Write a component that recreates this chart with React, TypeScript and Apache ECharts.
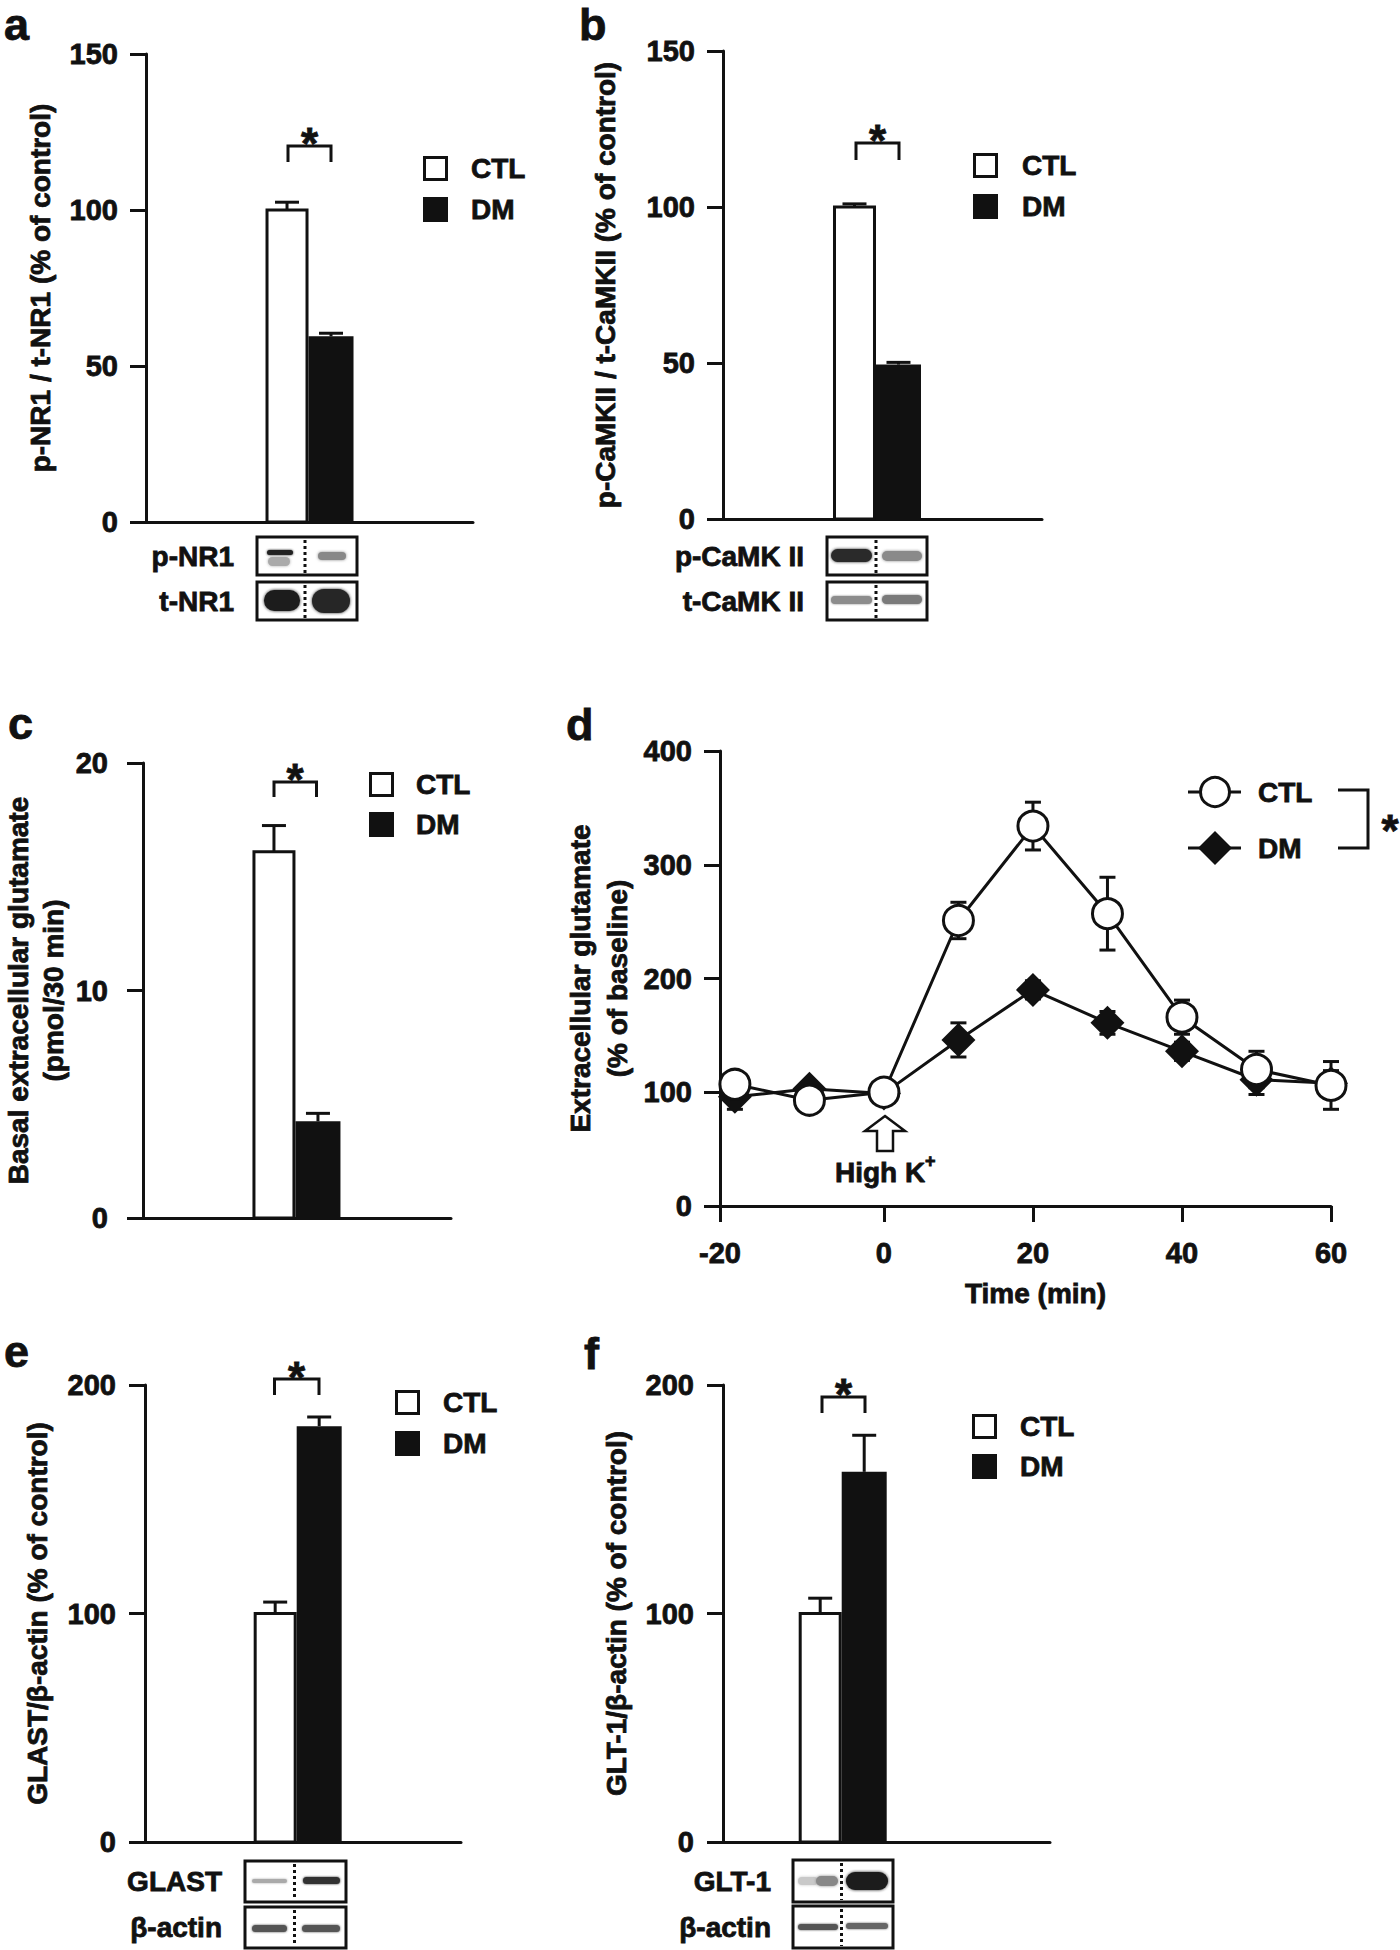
import React, { useEffect, useRef } from 'react';
import * as echarts from 'echarts';

const FONT = '"Liberation Sans", Arial, Helvetica, sans-serif';
const BLACK = '#111111';
const TEXT_STROKE = 0.8;

// ---------------- data ----------------
const groupNames = ['CTL', 'DM'];
const pNR1Values = [100, 59.5];
const pNR1Errors = [2.5, 1.0];
const pCaMKIIValues = [100, 49.5];
const pCaMKIIErrors = [1.0, 0.7];
const basalGluValues = [16.1, 4.25];
const basalGluErrors = [1.15, 0.35];
const glastValues = [100, 182];
const glastErrors = [5, 4];
const glt1Values = [100, 162];
const glt1Errors = [6.7, 16];

const timeMin = [-20, -10, 0, 10, 20, 30, 40, 50, 60];
const ctlGlu = [107, 93, 100, 251, 334, 257, 166, 120, 106];
const ctlGluErr = [5, 4, 3, 16, 21, 32, 15, 16, 21];
const dmGlu = [96, 103, 99, 146, 190, 161, 136, 111, 108];
const dmGluErr = [11, 6, 4, 15, 8, 10, 8, 13, 11];

const ticks150 = [0, 50, 100, 150];
const ticks20 = [0, 10, 20];
const ticks200 = [0, 100, 200];
const ticks400 = [0, 100, 200, 300, 400];
const timeTicks = [-20, 0, 20, 40, 60];

// ---------------- layout ----------------
const timeAxisStart = -22; // axis origin sits slightly left of the first sample

const barPanels = [
  { grid: { left: 146, top: 54, width: 327, height: 468 }, groupPos: 0.497, ticks: ticks150, values: pNR1Values, errors: pNR1Errors,
    yName: 'p-NR1 / t-NR1 (% of control)', nameGap: 92, margin: 28, lineHeight: 28 },
  { grid: { left: 723, top: 51, width: 319, height: 468 }, groupPos: 0.4796, ticks: ticks150, values: pCaMKIIValues, errors: pCaMKIIErrors,
    yName: 'p-CaMKII / t-CaMKII (% of control)', nameGap: 104, margin: 28, lineHeight: 28 },
  { grid: { left: 139, top: 763, width: 312, height: 455 }, groupPos: 0.495, ticks: ticks20, values: basalGluValues, errors: basalGluErrors,
    yName: 'Basal extracellular glutamate\n(pmol/30 min)', nameGap: 72, margin: 35, lineHeight: 35 },
  null,
  { grid: { left: 145, top: 1385, width: 316, height: 457 }, groupPos: 0.48, ticks: ticks200, values: glastValues, errors: glastErrors,
    yName: 'GLAST/β-actin (% of control)', nameGap: 94, margin: 29, lineHeight: 28 },
  { grid: { left: 723, top: 1385, width: 327, height: 457 }, groupPos: 0.363, ticks: ticks200, values: glt1Values, errors: glt1Errors,
    yName: 'GLT-1/β-actin (% of control)', nameGap: 93, margin: 29, lineHeight: 28 },
];
const lineGrid = { left: 720, top: 751, width: 611, height: 455 };

const legends = [
  { x: 423, ctlTop: 156, dmTop: 197, textX: 471 },
  { x: 973, ctlTop: 153, dmTop: 194, textX: 1022 },
  { x: 369, ctlTop: 772, dmTop: 812, textX: 416 },
  { x: 395, ctlTop: 1390, dmTop: 1431, textX: 443 },
  { x: 972, ctlTop: 1414, dmTop: 1454, textX: 1020 },
];
const brackets = [
  { x1: 288, x2: 331, top: 146, bottom: 162, sx: 309.5, sy: 133 },
  { x1: 856, x2: 899, top: 143, bottom: 160, sx: 877.5, sy: 130 },
  { x1: 274, x2: 316.5, top: 782, bottom: 797, sx: 295, sy: 769 },
  { x1: 274.5, x2: 319, top: 1379, bottom: 1395, sx: 296.5, sy: 1367 },
  { x1: 822, x2: 865, top: 1397, bottom: 1413, sx: 843.5, sy: 1384 },
];
const LETTER_SIZE = 45;
const panelLetters = [
  { t: 'a', x: 4, base: 40 }, { t: 'b', x: 579, base: 40 }, { t: 'c', x: 8, base: 739 },
  { t: 'd', x: 566, base: 740 }, { t: 'e', x: 4, base: 1367 }, { t: 'f', x: 584, base: 1369 },
];

type Band = [number, number, number, number, string, number];
const blots: { label: string; lx: number; ly: number; box: [number, number, number, number]; div: number; bands: Band[] }[] = [
  { label: 'p-NR1', lx: 234, ly: 556, box: [257, 537, 100, 38], div: 305,
    bands: [[267, 550, 26, 5, '#222', 2], [268, 557, 22, 9, '#aaa', 3], [318, 552, 28, 8, '#888', 3]] },
  { label: 't-NR1', lx: 234, ly: 601, box: [257, 582, 100, 38], div: 305,
    bands: [[264, 590, 36, 21, '#1a1a1a', 3], [312, 589, 38, 24, '#262626', 3]] },
  { label: 'p-CaMK II', lx: 804, ly: 556, box: [827, 537, 100, 38], div: 876,
    bands: [[831, 549, 41, 13, '#2a2a2a', 3], [882, 551, 40, 10, '#8a8a8a', 3]] },
  { label: 't-CaMK II', lx: 804, ly: 601, box: [827, 582, 100, 38], div: 876,
    bands: [[831, 596, 41, 8, '#8c8c8c', 2], [882, 595, 40, 9, '#7a7a7a', 2]] },
  { label: 'GLAST', lx: 222, ly: 1881, box: [245, 1861, 101, 41], div: 294.5,
    bands: [[252, 1879, 35, 4, '#aaa', 2], [303, 1877, 37, 7, '#333', 2]] },
  { label: 'β-actin', lx: 222, ly: 1927, box: [245, 1907, 101, 41], div: 294.5,
    bands: [[252, 1925, 35, 7, '#555', 2], [302, 1925, 38, 7, '#555', 2]] },
  { label: 'GLT-1', lx: 771, ly: 1881, box: [793, 1860, 100, 42], div: 841.5,
    bands: [[798, 1877, 20, 8, '#c8c8c8', 3], [816, 1876, 22, 10, '#888', 3], [846, 1872, 42, 18, '#1a1a1a', 3]] },
  { label: 'β-actin', lx: 771, ly: 1927, box: [793, 1906, 100, 42], div: 841.5,
    bands: [[798, 1924, 40, 6, '#555', 2], [846, 1923, 42, 6, '#666', 2]] },
];

// ---------------- helpers ----------------
const font = (size: number) => `bold ${size}px ${FONT}`;
const textEl = (text: string, x: number, y: number, size = 28, align = 'left') => ({
  type: 'text', x, y, silent: true,
  style: {
    text, fill: BLACK, font: font(size), textAlign: align, textVerticalAlign: 'middle', verticalAlign: 'middle',
    stroke: BLACK, lineWidth: TEXT_STROKE,
  },
});

function buildGraphic() {
  const g: any[] = [];
  panelLetters.forEach((p) => g.push(textEl(p.t, p.x, p.base - 0.3465 * LETTER_SIZE, LETTER_SIZE)));
  legends.forEach((l) => {
    g.push({ type: 'rect', shape: { x: l.x + 1.5, y: l.ctlTop + 1.5, width: 22, height: 22 }, style: { fill: '#fff', stroke: BLACK, lineWidth: 3 } });
    g.push({ type: 'rect', shape: { x: l.x, y: l.dmTop, width: 25, height: 25 }, style: { fill: BLACK } });
    g.push(textEl(groupNames[0], l.textX, l.ctlTop + 12.5));
    g.push(textEl(groupNames[1], l.textX, l.dmTop + 12.5));
  });
  brackets.forEach((b) => {
    g.push({ type: 'polyline', shape: { points: [[b.x1, b.bottom], [b.x1, b.top], [b.x2, b.top], [b.x2, b.bottom]] }, style: { fill: null, stroke: BLACK, lineWidth: 3 } });
    g.push(textEl('*', b.sx, b.sy + 10, 44, 'center'));
  });
  blots.forEach((bl) => {
    const [x, y, w, h] = bl.box;
    g.push({ type: 'rect', shape: { x, y, width: w, height: h }, style: { fill: '#fff' } });
    bl.bands.forEach((b) =>
      g.push({ type: 'rect', shape: { x: b[0], y: b[1], width: b[2], height: b[3], r: b[3] / 2 }, style: { fill: b[4], shadowBlur: b[5], shadowColor: b[4] } })
    );
    g.push({ type: 'line', shape: { x1: bl.div, y1: y + 3, x2: bl.div, y2: y + h - 2 }, style: { stroke: BLACK, lineWidth: 3, lineDash: [3, 3] } });
    g.push({ type: 'rect', shape: { x, y, width: w, height: h }, style: { fill: null, stroke: BLACK, lineWidth: 3 } });
    g.push(textEl(bl.label, bl.lx, bl.ly, 28, 'right'));
  });
  // panel d legend
  const lx1 = 1188, lx2 = 1241, cx = 1215, cy = 792, dy = 848;
  g.push({ type: 'line', shape: { x1: lx1, y1: cy, x2: lx2, y2: cy }, style: { stroke: BLACK, lineWidth: 3 } });
  g.push({ type: 'circle', shape: { cx, cy, r: 14.5 }, style: { fill: '#fff', stroke: BLACK, lineWidth: 3 } });
  g.push(textEl(groupNames[0], 1258, cy));
  g.push({ type: 'line', shape: { x1: lx1, y1: dy, x2: lx2, y2: dy }, style: { stroke: BLACK, lineWidth: 3 } });
  g.push({ type: 'polygon', shape: { points: [[cx, dy - 17], [cx + 17, dy], [cx, dy + 17], [cx - 17, dy]] }, style: { fill: BLACK } });
  g.push(textEl(groupNames[1], 1258, dy));
  g.push({ type: 'polyline', shape: { points: [[1338, 790], [1368, 790], [1368, 848], [1338, 848]] }, style: { fill: null, stroke: BLACK, lineWidth: 3 } });
  g.push(textEl('*', 1390, 820 + 10, 44, 'center'));
  // High K+ arrow
  g.push({
    type: 'polygon',
    shape: { points: [[885, 1116], [905, 1131], [893, 1131], [893, 1151], [877, 1151], [877, 1131], [865, 1131]] },
    style: { fill: '#fff', stroke: BLACK, lineWidth: 2.5 },
  });
  g.push(textEl('High K', 835, 1172, 28, 'left'));
  g.push(textEl('+', 925, 1161, 18, 'left'));
  return g;
}

const axisLine = { show: true, onZero: false, lineStyle: { color: BLACK, width: 3 } };
const tickStyle = { show: true, length: 16, lineStyle: { color: BLACK, width: 3 } };
const labelStyle = (margin: number) => ({
  margin, color: BLACK, fontFamily: FONT, fontWeight: 'bold', fontSize: 29,
  textBorderColor: BLACK, textBorderWidth: TEXT_STROKE,
});
const nameStyle = (lineHeight: number) => ({
  color: BLACK, fontFamily: FONT, fontWeight: 'bold', fontSize: 28, lineHeight,
  textBorderColor: BLACK, textBorderWidth: TEXT_STROKE,
});

function buildOption() {
  const grids: any[] = [];
  const xAxes: any[] = [];
  const yAxes: any[] = [];
  const series: any[] = [];
  barPanels.forEach((p, i) => {
    if (!p) {
      grids.push(lineGrid);
      const tickPos = [timeAxisStart, ...timeTicks.slice(1)];
      xAxes.push({
        gridIndex: i, type: 'value', min: timeAxisStart, max: timeTicks[timeTicks.length - 1],
        axisLine, axisTick: { ...tickStyle, customValues: tickPos },
        axisLabel: { ...labelStyle(32), customValues: tickPos,
          formatter: (v: number) => (v === timeAxisStart ? String(timeTicks[0]) : String(v)) },
        splitLine: { show: false },
        name: 'Time (min)', nameLocation: 'middle', nameGap: 73,
        nameTextStyle: { ...nameStyle(28), padding: [0, 0, 0, 20] },
      });
      yAxes.push({
        gridIndex: i, type: 'value', min: ticks400[0], max: ticks400[ticks400.length - 1], interval: ticks400[1] - ticks400[0],
        axisLine, axisTick: tickStyle, axisLabel: labelStyle(28), splitLine: { show: false },
        name: 'Extracellular glutamate\n(% of baseline)', nameLocation: 'middle', nameRotate: 90, nameGap: 84,
        nameTextStyle: nameStyle(37),
      });
      return;
    }
    grids.push(p.grid);
    xAxes.push({ gridIndex: i, type: 'value', min: 0, max: 1, axisLine, axisTick: { show: false }, axisLabel: { show: false }, splitLine: { show: false } });
    yAxes.push({
      gridIndex: i, type: 'value', min: p.ticks[0], max: p.ticks[p.ticks.length - 1], interval: p.ticks[1] - p.ticks[0],
      axisLine, axisTick: tickStyle, axisLabel: labelStyle(p.margin), splitLine: { show: false },
      name: p.yName, nameLocation: 'middle', nameRotate: 90, nameGap: p.nameGap, nameTextStyle: nameStyle(p.lineHeight),
    });
    const gp = p.groupPos;
    series.push({
      type: 'custom', name: 'bars' + i, xAxisIndex: i, yAxisIndex: i,
      data: p.values.map((v, k) => [k, v, p.errors[k]]),
      renderItem: (params: any, api: any) => {
        const k = params.dataIndex;
        const val = api.value(1);
        const err = api.value(2);
        const p0 = api.coord([gp, 0]);
        const p1 = api.coord([gp, val]);
        const pe = api.coord([gp, val + err]);
        const cx = p0[0];
        const isCTL = k === 0;
        const left = isCTL ? cx - 41.5 : cx;
        const w = isCTL ? 40 : 45;
        const mid = left + w / 2;
        return {
          type: 'group',
          children: [
            { type: 'line', shape: { x1: mid, y1: p1[1], x2: mid, y2: pe[1] }, style: { stroke: BLACK, lineWidth: 3 } },
            { type: 'line', shape: { x1: mid - 12, y1: pe[1], x2: mid + 12, y2: pe[1] }, style: { stroke: BLACK, lineWidth: 3 } },
            { type: 'rect', shape: { x: left, y: p1[1], width: w, height: p0[1] - p1[1] },
              style: isCTL ? { fill: '#fff', stroke: BLACK, lineWidth: 3 } : { fill: BLACK, stroke: null } },
          ],
        };
      },
      z: 3,
    });
  });

  const errSeries = (vals: number[], errs: number[], name: string) => ({
    type: 'custom', name, xAxisIndex: 3, yAxisIndex: 3, z: 1,
    data: timeMin.map((t, i) => [t, vals[i], errs[i]]),
    renderItem: (params: any, api: any) => {
      const t = api.value(0), v = api.value(1), e = api.value(2);
      const hi = api.coord([t, v + e]);
      const lo = api.coord([t, v - e]);
      return {
        type: 'group',
        children: [
          { type: 'line', shape: { x1: hi[0], y1: hi[1], x2: lo[0], y2: lo[1] }, style: { stroke: BLACK, lineWidth: 3 } },
          { type: 'line', shape: { x1: hi[0] - 8, y1: hi[1], x2: hi[0] + 8, y2: hi[1] }, style: { stroke: BLACK, lineWidth: 3 } },
          { type: 'line', shape: { x1: lo[0] - 8, y1: lo[1], x2: lo[0] + 8, y2: lo[1] }, style: { stroke: BLACK, lineWidth: 3 } },
        ],
      };
    },
  });
  series.push(errSeries(dmGlu, dmGluErr, 'DM error'));
  series.push(errSeries(ctlGlu, ctlGluErr, 'CTL error'));
  series.push({
    type: 'line', name: 'DM', xAxisIndex: 3, yAxisIndex: 3, z: 3,
    data: timeMin.map((t, i) => [t, dmGlu[i]]),
    symbol: 'diamond', symbolSize: 34, itemStyle: { color: BLACK },
    lineStyle: { color: BLACK, width: 3 },
  });
  series.push({
    type: 'line', name: 'CTL', xAxisIndex: 3, yAxisIndex: 3, z: 4,
    data: timeMin.map((t, i) => [t, ctlGlu[i]]),
    symbol: 'circle', symbolSize: 30, itemStyle: { color: '#fff', borderColor: BLACK, borderWidth: 3 },
    lineStyle: { color: BLACK, width: 3 },
  });

  return {
    animation: false,
    backgroundColor: '#fff',
    grid: grids,
    xAxis: xAxes,
    yAxis: yAxes,
    series,
    graphic: buildGraphic(),
  };
}

export default function App() {
  const ref = useRef<HTMLDivElement>(null);
  useEffect(() => {
    if (!ref.current) return;
    const chart = echarts.init(ref.current, null, { renderer: 'svg' });
    chart.setOption(buildOption() as any);
    return () => chart.dispose();
  }, []);
  return <div ref={ref} style={{ position: 'absolute', left: 0, top: 0, width: 1400, height: 1950, background: '#fff' }} />;
}
